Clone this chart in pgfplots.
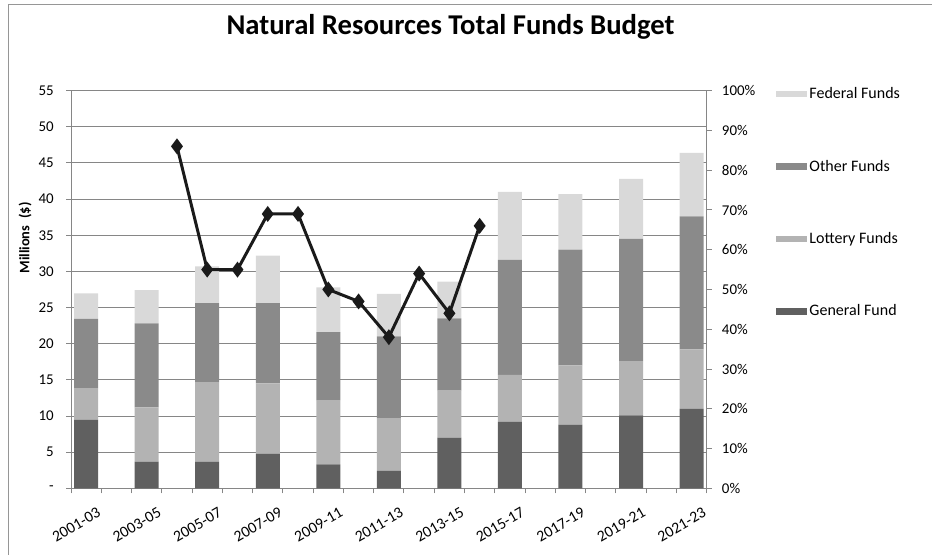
\documentclass[border=0pt]{standalone}
\usepackage{fontspec}
\setmainfont{Carlito}
\usepackage{pgfplots}
\usepackage{pgfplotstable}
\pgfplotsset{compat=1.18}
\newlength\px \setlength\px{0.75pt}
\definecolor{cGen}{RGB}{96,96,96}
\definecolor{cLot}{RGB}{179,179,179}
\definecolor{cOth}{RGB}{138,138,138}
\definecolor{cFed}{RGB}{217,217,217}
\definecolor{cGrid}{RGB}{134,134,134}
\definecolor{cLine}{RGB}{26,26,26}
\definecolor{cFrame}{RGB}{150,150,150}

\pgfplotstableread{
x gen lot oth fed
0 9.45 4.4 9.6 3.5
2 3.7 7.5 11.6 4.6
4 3.7 11.0 10.9 5.1
6 4.8 9.7 11.1 6.6
8 3.3 8.9 9.4 6.2
10 2.4 7.3 11.3 5.9
12 7.0 6.5 10.0 5.1
14 9.2 6.5 15.9 9.4
16 8.8 8.2 16.0 7.7
18 10.1 7.5 16.9 8.3
20 11.0 8.2 18.4 8.8
}\budget

\pgfplotstableread{
x pct
3 86
4 55
5 55
6 69
7 69
8 50
9 47
10 38
11 54
12 44
13 66
}\share

\begin{document}
\begin{tikzpicture}
\path[use as bounding box] (0,0) rectangle (932\px,555\px);
\draw[cFrame, line width=1.6\px] (8.3\px,0) -- (8.3\px,550.3\px) -- (932\px,550.3\px);

\begin{axis}[
  at={(71\px,66.7\px)}, anchor=south west,
  scale only axis, width=635.7\px, height=397.6\px,
  xmin=-0.5, xmax=20.5, ymin=0, ymax=55,
  ybar stacked, bar width=24\px,
  axis x line*=bottom, axis y line*=left,
  axis line style={cGrid, line width=1\px},
  xtick={-0.5,0.5,...,20.5}, xticklabels={},
  extra x ticks={0,2,4,6,8,10,12,14,16,18,20},
  extra x tick labels={2001-03,2003-05,2005-07,2007-09,2009-11,2011-13,2013-15,2015-17,2017-19,2019-21,2021-23},
  extra x tick style={major tick length=0pt},
  ytick={0,5,...,55}, yticklabels={-,5,10,15,20,25,30,35,40,45,50,55},
  ymajorgrids, grid style={cGrid, line width=1\px},
  tick align=outside, major tick length=5\px,
  tick style={cGrid, line width=1\px},
  tick label style={font=\fontsize{11.2}{13}\selectfont, text=black},
  xticklabel style={font=\fontsize{11.8}{13}\selectfont, rotate=30, anchor=north east, inner sep=0pt, yshift=-21\px, xshift=0\px},
  yticklabel style={anchor=east, inner sep=0pt, xshift=-12\px},
  legend style={draw=none, fill=none, at={(1.102,1.022)}, anchor=north west,
    row sep=54\px, font=\fontsize{12}{14}\selectfont,
    /tikz/every even column/.append style={column sep=0\px}},
  legend image code/.code={\fill[#1] (0pt,-3.3\px) rectangle (31\px,3.3\px);},
  legend cell align=left,
  reverse legend,
]
\addplot[fill=cGen, draw=none] table[x=x,y=gen]{\budget};
\addlegendentry{General Fund}
\addplot[fill=cLot, draw=none] table[x=x,y=lot]{\budget};
\addlegendentry{Lottery Funds}
\addplot[fill=cOth, draw=none] table[x=x,y=oth]{\budget};
\addlegendentry{Other Funds}
\addplot[fill=cFed, draw=none] table[x=x,y=fed]{\budget};
\addlegendentry{Federal Funds}
\end{axis}

\begin{axis}[
  at={(71\px,66.7\px)}, anchor=south west,
  scale only axis, width=635.7\px, height=397.6\px,
  xmin=-0.5, xmax=20.5, ymin=0, ymax=100,
  axis x line=none, axis y line*=right,
  axis line style={cGrid, line width=1\px},
  xtick=\empty,
  ytick={0,10,...,100}, yticklabels={0\%,10\%,20\%,30\%,40\%,50\%,60\%,70\%,80\%,90\%,100\%},
  tick align=outside, major tick length=5\px,
  tick style={cGrid, line width=1\px},
  tick label style={font=\fontsize{11.2}{13}\selectfont, text=black},
  yticklabel style={anchor=west, inner sep=0pt, xshift=10\px},
]
\addplot[cLine, line width=3\px, mark=diamond*, mark size=5.5\px, mark options={solid, fill=cLine}] table[x=x,y=pct]{\share};
\end{axis}

\node[anchor=base, font=\bfseries\fontsize{21.5}{26}\selectfont] at (450.5\px,520\px) {Natural Resources Total Funds Budget};
\node[rotate=90, font=\bfseries\fontsize{10.8}{12}\selectfont] at (25\px,317\px) {Millions\hspace{0.25em} (\$)};
\end{tikzpicture}
\end{document}
